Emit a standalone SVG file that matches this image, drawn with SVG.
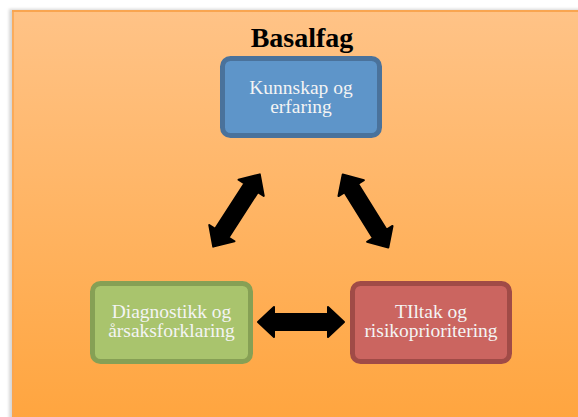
<svg xmlns="http://www.w3.org/2000/svg" width="578" height="417" viewBox="0 0 578 417">
  <defs>
    <linearGradient id="bg" x1="0" y1="0" x2="0" y2="1">
      <stop offset="0" stop-color="#FFC387"/>
      <stop offset="1" stop-color="#FFA53F"/>
    </linearGradient>
    <filter id="sh" x="-5%" y="-5%" width="110%" height="110%">
      <feGaussianBlur stdDeviation="1.5"/>
    </filter>
    <path id="dblarrow" d="M-43,0 L-27,-15 L-27,-8 L27,-8 L27,-15 L43,0 L27,15 L27,8 L-27,8 L-27,15 Z"/>
    <style>
      .node rect { stroke-width: 5; }
      .lbl { font-family: "Liberation Serif", "Times New Roman", serif; font-size: 19.5px; fill: #F4F4F4; text-anchor: middle; }
      .title { font-family: "Liberation Serif", "Times New Roman", serif; font-size: 28px; font-weight: bold; fill: #000; text-anchor: middle; }
      .arrow { fill: #000; stroke: #000; stroke-width: 2; stroke-linejoin: round; }
    </style>
  </defs>

  <rect x="0" y="0" width="578" height="417" fill="#FFFFFF"/>
  <rect x="9" y="9" width="580" height="420" fill="#9a9a9a" opacity="0.4" filter="url(#sh)"/>
  <rect x="12" y="10" width="570" height="410" fill="url(#bg)"/>
  <line x1="12" y1="11" x2="578" y2="11" stroke="#F9A550" stroke-width="2"/>
  <line x1="13" y1="10" x2="13" y2="417" stroke="#F9A550" stroke-width="1.5"/>

  <text class="title" x="302" y="47">Basalfag</text>

  <g id="connectors">
    <use href="#dblarrow" class="arrow" transform="translate(301,322)"/>
    <use href="#dblarrow" class="arrow" transform="translate(236.5,210.5) rotate(-57.2)"/>
    <use href="#dblarrow" class="arrow" transform="translate(365.5,211) rotate(58)"/>
  </g>

  <g id="node-kunnskap" class="node">
    <rect x="222.5" y="58.5" width="157" height="77" rx="8" fill="#5E95C9" stroke="#4A729B"/>
    <text class="lbl" x="301" y="94">Kunnskap og</text>
    <text class="lbl" x="301" y="113">erfaring</text>
  </g>

  <g id="node-diagnostikk" class="node">
    <rect x="92.5" y="283.5" width="158" height="78" rx="8" fill="#A9C46D" stroke="#86A055"/>
    <text class="lbl" x="171.5" y="318">Diagnostikk og</text>
    <text class="lbl" x="171.5" y="337">årsaksforklaring</text>
  </g>

  <g id="node-tiltak" class="node">
    <rect x="352.5" y="283.5" width="157" height="78" rx="8" fill="#CB6560" stroke="#A04B47"/>
    <text class="lbl" x="431" y="318">TIltak og</text>
    <text class="lbl" x="431" y="337">risikoprioritering</text>
  </g>
</svg>
